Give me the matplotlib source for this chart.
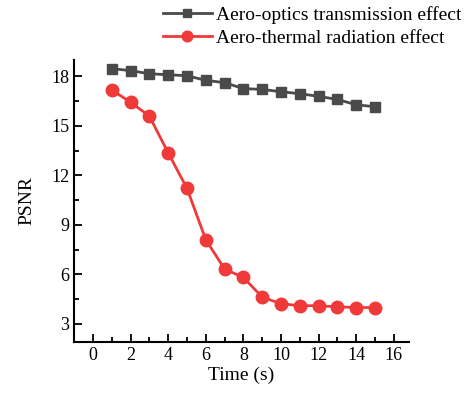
import matplotlib
matplotlib.use("Agg")
import matplotlib.pyplot as plt
from matplotlib.ticker import MultipleLocator

time_s = [1, 2, 3, 4, 5, 6, 7, 8, 9, 10, 11, 12, 13, 14, 15]
aero_optics = [18.47, 18.35, 18.16, 18.10, 18.04, 17.76, 17.62, 17.26, 17.21, 17.07, 16.95, 16.79, 16.60, 16.28, 16.16]
aero_thermal = [17.17, 16.44, 15.59, 13.37, 11.21, 8.10, 6.32, 5.81, 4.62, 4.22, 4.10, 4.10, 4.03, 3.99, 3.99]
labels = ["Aero-optics transmission effect", "Aero-thermal radiation effect"]

plt.rcParams['font.family'] = ['Liberation Serif', 'DejaVu Serif']
plt.rcParams['mathtext.fontset'] = 'stix'

fig = plt.figure(figsize=(4.69, 3.94), dpi=100)
ax = fig.add_axes([0.158, 0.132, 0.714, 0.716])

ax.plot(time_s, aero_optics, color='#4a4a4a', marker='s', markersize=7.5, linewidth=2, label=labels[0])
ax.plot(time_s, aero_thermal, color='#f03a3a', marker='o', markersize=9, linewidth=2, label=labels[1])

ax.set_xlim(-1, 16.8)
ax.set_ylim(1.9, 19.0)
ax.xaxis.set_major_locator(MultipleLocator(2))
ax.xaxis.set_minor_locator(MultipleLocator(1))
ax.yaxis.set_major_locator(MultipleLocator(3))
ax.yaxis.set_minor_locator(MultipleLocator(1.5))
ax.tick_params(which='both', direction='in', labelsize=13, width=1.3)
ax.tick_params(which='major', length=6)
ax.tick_params(which='minor', length=3.5)
ax.spines['top'].set_visible(False)
ax.spines['right'].set_visible(False)
for s in ('left', 'bottom'):
    ax.spines[s].set_linewidth(1.5)

ax.set_xlabel("Time (s)", fontsize=14, labelpad=2)
ax.set_ylabel("PSNR", fontsize=14, labelpad=11)

fig.legend(loc='upper left', bbox_to_anchor=(0.331, 1.005), frameon=False, fontsize=14,
           handlelength=2.5, handletextpad=0.2, labelspacing=0.3, borderaxespad=0,
           markerscale=0.85)

fig.savefig("out.png", dpi=100)
